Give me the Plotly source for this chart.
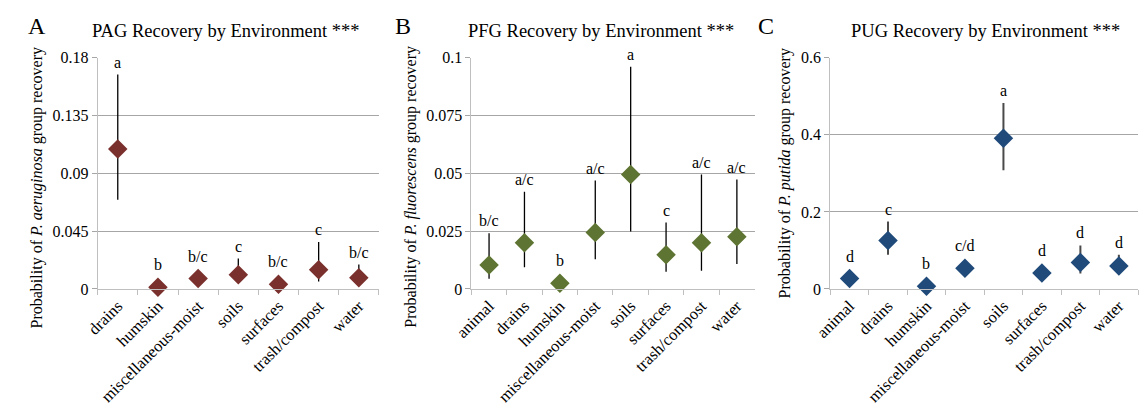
import plotly.graph_objects as go

W, H = 1144, 412

# ---- data -------------------------------------------------------------
cats_a = ["drains", "humskin", "miscellaneous-moist", "soils", "surfaces",
          "trash/compost", "water"]
val_a = [0.109, 0.0012, 0.0082, 0.011, 0.0037, 0.0149, 0.0087]
hi_a = [0.167, 0.002, 0.0115, 0.0236, 0.006, 0.0365, 0.019]
lo_a = [0.0695, 0.0005, 0.0055, 0.006, 0.002, 0.0057, 0.004]
lab_a = ["a", "b", "b/c", "c", "b/c", "c", "b/c"]

cats_b = ["animal", "drains", "humskin", "miscellaneous-moist", "soils",
          "surfaces", "trash/compost", "water"]
val_b = [0.0103, 0.020, 0.0025, 0.0244, 0.0495, 0.0148, 0.020, 0.0226]
hi_b = [0.0241, 0.0421, 0.004, 0.0469, 0.0961, 0.0287, 0.0495, 0.0473]
lo_b = [0.0044, 0.0094, 0.001, 0.0128, 0.0248, 0.0074, 0.0079, 0.0108]
lab_b = ["b/c", "a/c", "b", "a/c", "a", "c", "a/c", "a/c"]

cats_c = ["animal", "drains", "humskin", "miscellaneous-moist", "soils",
          "surfaces", "trash/compost", "water"]
val_c = [0.0273, 0.126, 0.0066, 0.0538, 0.3915, 0.041, 0.0687, 0.0596]
hi_c = [0.034, 0.175, 0.010, 0.060, 0.483, 0.047, 0.113, 0.089]
lo_c = [0.020, 0.089, 0.003, 0.048, 0.308, 0.035, 0.040, 0.041]
lab_c = ["d", "c", "b", "c/d", "a", "d", "d", "d"]

ticks_a = [0, 0.045, 0.09, 0.135, 0.18]
ticks_b = [0, 0.025, 0.05, 0.075, 0.1]
ticks_c = [0, 0.2, 0.4, 0.6]

# ---- styling ----------------------------------------------------------
FONT = "Liberation Serif, Times New Roman, serif"
GRID = "#a6a6a6"
AXIS = "#bfbfbf"

panels = [
    dict(cats=cats_a, val=val_a, hi=hi_a, lo=lo_a, lab=lab_a, ticks=ticks_a,
         tickfmt=["0", "0.045", "0.09", "0.135", "0.18"],
         color="#7a302d", ebar="#000000", ethick=1.3,
         x0=80, x1=366, letter="A", letter_x=18.5,
         title="PAG Recovery by Environment ***", title_x=210,
         ytitle="Probability of <i>P. aeruginosa</i> group recovery",
         ytitle_x=18, ytitle_y=187.5),
    dict(cats=cats_b, val=val_b, hi=hi_b, lo=lo_b, lab=lab_b, ticks=ticks_b,
         tickfmt=["0", "0.025", "0.05", "0.075", "0.1"],
         color="#5e7432", ebar="#000000", ethick=1.3,
         x0=460, x1=748, letter="B", letter_x=390,
         title="PFG Recovery by Environment ***", title_x=592,
         ytitle="Probability of <i>P. fluorescens</i> group recovery",
         ytitle_x=399, ytitle_y=186),
    dict(cats=cats_c, val=val_c, hi=hi_c, lo=lo_c, lab=lab_c, ticks=ticks_c,
         tickfmt=["0", "0.2", "0.4", "0.6"],
         color="#1f4a7a", ebar="#4a4a4a", ethick=2,
         x0=825, x1=1138, letter="C", letter_x=760,
         title="PUG Recovery by Environment ***", title_x=983,
         ytitle="Probability of <i>P. putida</i> group recovery",
         ytitle_x=779, ytitle_y=172.5),
]

Y_TOP, Y_BOT = 52, 293  # plot area top / bottom in pixels


def px(x):
    return x / W


def py(y):
    return 1 - y / H


fig = go.Figure()
annotations = []
layout_axes = {}

for i, p in enumerate(panels):
    n = i + 1
    xa = "x" if n == 1 else f"x{n}"
    ya = "y" if n == 1 else f"y{n}"
    xkey = "xaxis" if n == 1 else f"xaxis{n}"
    ykey = "yaxis" if n == 1 else f"yaxis{n}"
    ymax = p["ticks"][-1]

    fig.add_trace(go.Scatter(
        x=p["cats"], y=p["val"], mode="markers", xaxis=xa, yaxis=ya,
        marker=dict(symbol="diamond", size=15, color=p["color"],
                    line=dict(width=0)),
        error_y=dict(type="data", symmetric=False,
                     array=[h - v for h, v in zip(p["hi"], p["val"])],
                     arrayminus=[v - l for v, l in zip(p["val"], p["lo"])],
                     width=0, thickness=p["ethick"], color=p["ebar"]),
        cliponaxis=False, showlegend=False, hoverinfo="skip",
    ))

    layout_axes[xkey] = dict(
        domain=[px(p["x0"]), px(p["x1"])], anchor=ya,
        type="category", range=[-0.5, len(p["cats"]) - 0.5],
        showgrid=False, showline=True, linecolor=AXIS, linewidth=1,
        ticks="outside", tickson="boundaries", ticklen=5, tickcolor=AXIS,
        tickangle=-45, tickfont=dict(family=FONT, size=16.5, color="#000"),
        zeroline=False,
    )
    layout_axes[ykey] = dict(
        domain=[py(Y_BOT), py(Y_TOP)], anchor=xa,
        range=[0, ymax], tickvals=p["ticks"], ticktext=p["tickfmt"],
        showgrid=True, gridcolor=GRID, gridwidth=1,
        showline=True, linecolor=AXIS, linewidth=1,
        ticks="outside", ticklen=5, tickcolor=GRID,
        tickfont=dict(family=FONT, size=16, color="#000"),
        zeroline=False,
    )

    # significance letters above each whisker (or marker top)
    unit_px = (Y_BOT - Y_TOP) / ymax
    for c, v, h, t in zip(p["cats"], p["val"], p["hi"], p["lab"]):
        shift = max(2, 12 - (h - v) * unit_px)
        annotations.append(dict(
            x=c, y=h, xref=xa, yref=ya, text=t, showarrow=False,
            yanchor="bottom", yshift=shift,
            font=dict(family=FONT, size=16, color="#000"),
        ))

    # panel title, panel letter, y-axis title
    annotations.append(dict(
        x=px(p["title_x"]), y=py(23.5), xref="paper", yref="paper",
        text=p["title"], showarrow=False, xanchor="center", yanchor="middle",
        font=dict(family=FONT, size=18.5, color="#000"),
    ))
    annotations.append(dict(
        x=px(p["letter_x"]), y=py(18.5), xref="paper", yref="paper",
        text=p["letter"], showarrow=False, xanchor="center", yanchor="middle",
        font=dict(family=FONT, size=24, color="#000"),
    ))
    annotations.append(dict(
        x=px(p["ytitle_x"]), y=py(p["ytitle_y"]), xref="paper", yref="paper",
        text=p["ytitle"], showarrow=False, textangle=-90,
        xanchor="center", yanchor="middle",
        font=dict(family=FONT, size=16, color="#000"),
    ))

fig.update_layout(
    width=W, height=H, margin=dict(l=0, r=0, t=0, b=0),
    paper_bgcolor="white", plot_bgcolor="white",
    annotations=annotations, **layout_axes,
)

# page body without default margin so the figure sits at the window origin
fig.write_html(
    "out.html",
    post_script="document.body.style.margin='0';"
                "document.documentElement.style.overflow='hidden';",
)
